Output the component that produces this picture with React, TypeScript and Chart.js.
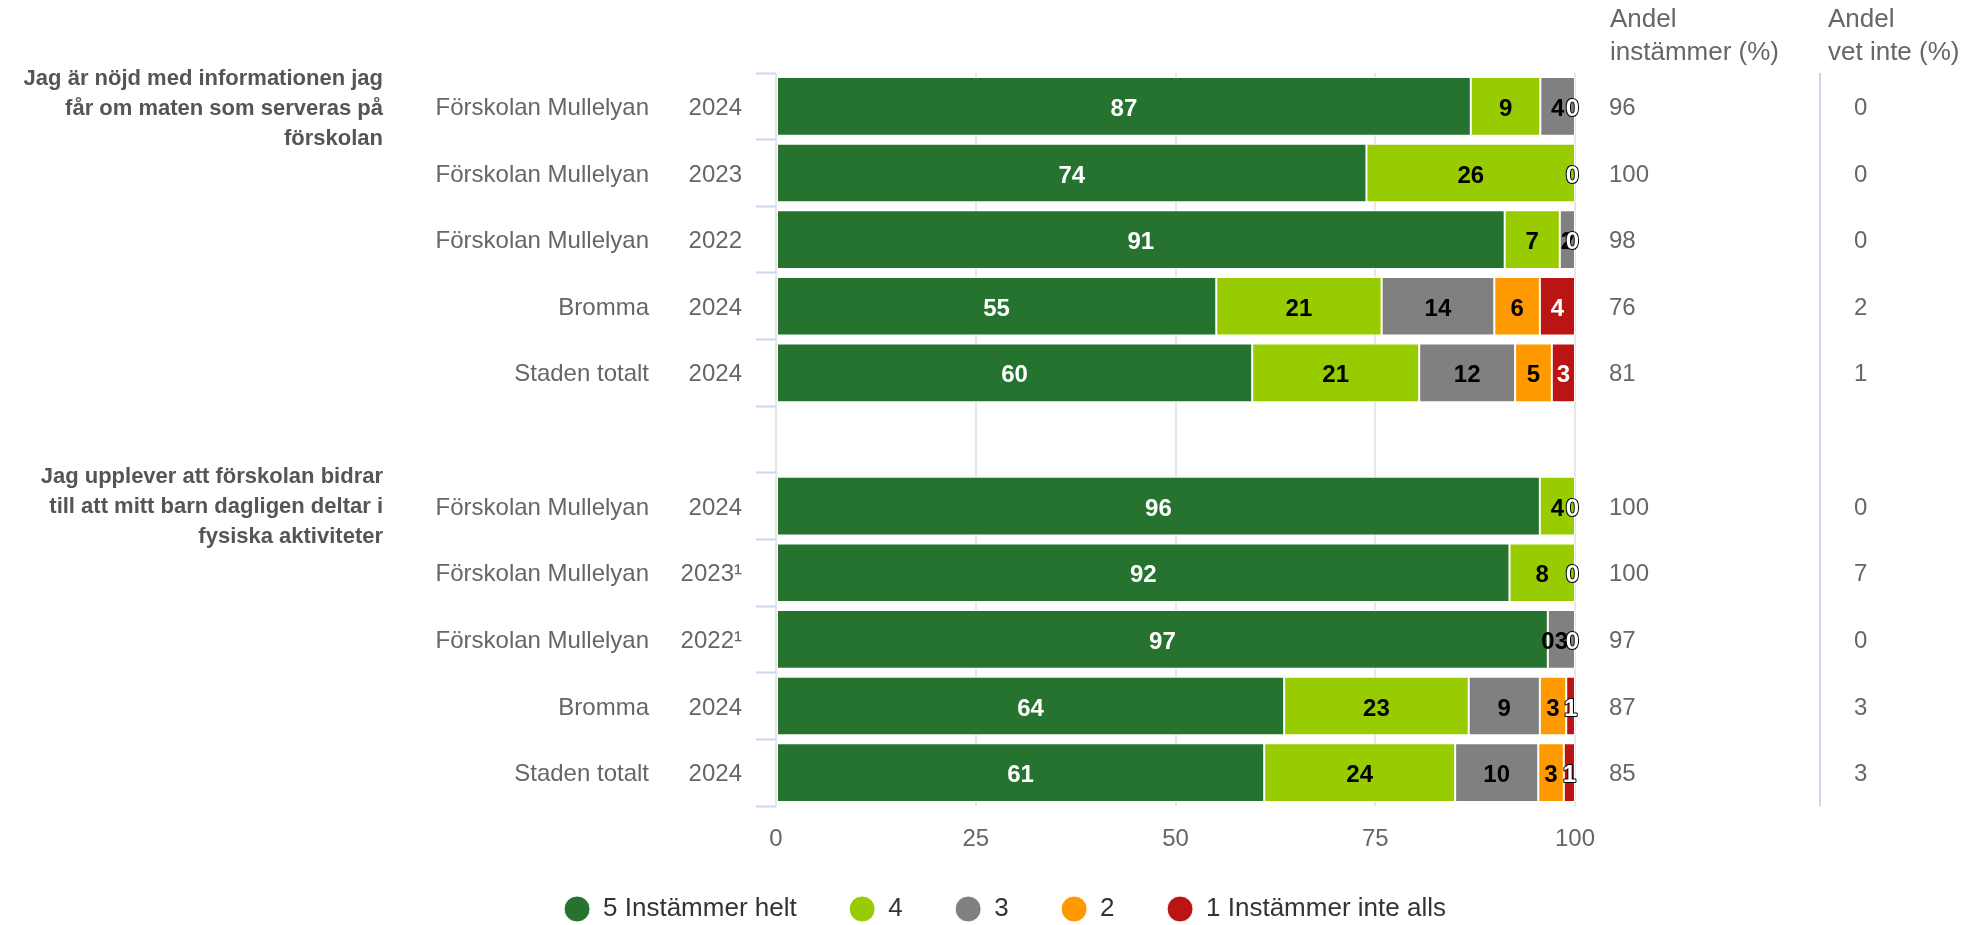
import React, { useEffect, useRef } from "react";
import { Chart, registerables } from "chart.js";

Chart.register(...registerables);

// ---------- data ----------
const sites = [
  "Förskolan Mullelyan", "Förskolan Mullelyan", "Förskolan Mullelyan", "Bromma", "Staden totalt",
  "",
  "Förskolan Mullelyan", "Förskolan Mullelyan", "Förskolan Mullelyan", "Bromma", "Staden totalt",
];
const years = ["2024", "2023", "2022", "2024", "2024", "", "2024", "2023¹", "2022¹", "2024", "2024"];

const question1 = ["Jag är nöjd med informationen jag", "får om maten som serveras på", "förskolan"];
const question2 = ["Jag upplever att förskolan bidrar", "till att mitt barn dagligen deltar i", "fysiska aktiviteter"];
const questionRows = [0, 6];

const seriesNames = ["5 Instämmer helt", "4", "3", "2", "1 Instämmer inte alls"];
const seriesColors = ["#26732f", "#99cc00", "#808080", "#ff9900", "#bb1414"];

const s5 = [86.96, 73.9, 91.2, 55.1, 59.6, null, 95.6, 91.8, 96.6, 63.6, 61.1];
const s4 = [8.7, 26.1, 6.9, 20.7, 20.9, null, 4.4, 8.2, 0, 23.1, 23.9];
const s3 = [4.34, 0, 1.9, 14.1, 12.0, null, 0, 0, 3.4, 8.9, 10.4];
const s2 = [0, 0, 0, 5.7, 4.6, null, 0, 0, 0, 3.3, 3.2];
const s1 = [0, 0, 0, 4.4, 2.9, null, 0, 0, 0, 1.1, 1.4];

const agreeShare = [96, 100, 98, 76, 81, null, 100, 100, 97, 87, 85];
const dontKnowShare = [0, 0, 0, 2, 1, null, 0, 7, 0, 3, 3];

const xTicks = [0, 25, 50, 75, 100];
const header1 = ["Andel", "instämmer (%)"];
const header2 = ["Andel", "vet inte (%)"];

// ---------- styling ----------
const FONT = '"Liberation Sans", Arial, Helvetica, sans-serif';
const LABEL_COLOR = "#666666";
const QUESTION_OFFSETS = [3, 1];

const allSeries = [s5, s4, s3, s2, s1];

const overlayPlugin = {
  id: "overlay",
  afterDatasetsDraw(chart: any) {
    const ctx = chart.ctx;
    const area = chart.chartArea;
    const yScale = chart.scales.y;
    const xScale = chart.scales.x;
    ctx.save();

    // data labels
    ctx.font = `bold 24px ${FONT}`;
    ctx.textAlign = "center";
    ctx.textBaseline = "middle";
    ctx.lineJoin = "round";
    for (let j = 0; j < sites.length; j++) {
      const metas = allSeries.map((_, i) => chart.getDatasetMeta(i));
      allSeries.forEach((s, i) => {
        const v = s[j];
        if (v == null) return;
        const el = metas[i].data[j];
        if (!el) return;
        const { x, base, y } = el.getProps(["x", "base", "y"], true);
        if (v === 0) {
          // hide a zero label when a later zero sits at the same spot
          for (let k = i + 1; k < allSeries.length; k++) {
            const el2 = metas[k].data[j];
            if (allSeries[k][j] === 0 && el2 && Math.abs(el2.base - base) < 0.5) return;
          }
        }
        const text = String(Math.round(v));
        const w = ctx.measureText(text).width;
        let cx = (x + base) / 2;
        if (cx > area.right - w / 2 + 4) cx = area.right - w / 2 + 4;
        const white = i === 0 || i === 4;
        const ty = y + 3;
        if (white) {
          if (w > Math.abs(x - base) - 2) {
            ctx.lineWidth = 2;
            ctx.strokeStyle = "#000000";
            ctx.strokeText(text, cx, ty);
          }
          ctx.fillStyle = "#ffffff";
        } else {
          ctx.fillStyle = "#000000";
        }
        ctx.fillText(text, cx, ty);
      });
    }

    // x axis tick labels (from the scale's own ticks)
    ctx.font = `24px ${FONT}`;
    ctx.fillStyle = LABEL_COLOR;
    ctx.textAlign = "center";
    xScale.ticks.forEach((t: any) => {
      ctx.fillText(String(t.value), xScale.getPixelForValue(t.value), area.bottom + 33);
    });

    // category labels (site + year)
    ctx.textAlign = "right";
    for (let j = 0; j < sites.length; j++) {
      const y = yScale.getPixelForValue(j) + 2;
      if (sites[j]) ctx.fillText(sites[j], 649, y);
      if (years[j]) ctx.fillText(years[j], 742, y);
    }

    // question labels
    ctx.font = `bold 22px ${FONT}`;
    ctx.fillStyle = "#555555";
    [question1, question2].forEach((lines, q) => {
      const cy = yScale.getPixelForValue(questionRows[q]) + QUESTION_OFFSETS[q];
      lines.forEach((line, k) => {
        ctx.fillText(line, 383, cy + (k - (lines.length - 1) / 2) * 30);
      });
    });

    // right columns
    ctx.textAlign = "left";
    ctx.font = `26px ${FONT}`;
    ctx.fillStyle = LABEL_COLOR;
    header1.forEach((t, k) => ctx.fillText(t, 1610, 20 + k * 33));
    header2.forEach((t, k) => ctx.fillText(t, 1828, 20 + k * 33));
    ctx.font = `24px ${FONT}`;
    for (let j = 0; j < sites.length; j++) {
      const y = yScale.getPixelForValue(j) + 2;
      if (agreeShare[j] != null) ctx.fillText(String(agreeShare[j]), 1609, y);
      if (dontKnowShare[j] != null) ctx.fillText(String(dontKnowShare[j]), 1854, y);
    }
    ctx.strokeStyle = "#ccd6eb";
    ctx.lineWidth = 2;
    ctx.beginPath();
    ctx.moveTo(1820, area.top);
    ctx.lineTo(1820, area.bottom);
    ctx.stroke();

    ctx.restore();
  },
};

export default function App() {
  const ref = useRef<HTMLCanvasElement | null>(null);

  useEffect(() => {
    if (!ref.current) return;
    const chart = new Chart(ref.current, {
      type: "bar",
      data: {
        labels: sites.map((s, i) => `${s} ${years[i]}`),
        datasets: allSeries.map((s, i) => ({
          label: seriesNames[i],
          data: s as any,
          backgroundColor: seriesColors[i],
          borderColor: "#ffffff",
          borderWidth: 1,
          borderSkipped: false,
          barPercentage: 0.88,
          categoryPercentage: 1,
        })),
      },
      options: {
        indexAxis: "y",
        animation: false,
        responsive: false,
        maintainAspectRatio: false,
        layout: { padding: { left: 40, right: 0, top: 73, bottom: -7 } },
        scales: {
          x: {
            stacked: true,
            min: 0,
            max: 100,
            afterBuildTicks: (scale: any) => {
              scale.ticks = xTicks.map((v) => ({ value: v }));
            },
            ticks: { display: false },
            grid: { color: "#e6e6e6", lineWidth: 2, drawTicks: false },
            border: { display: false },
            afterFit: (scale: any) => {
              scale.height = 37.5;
            },
          },
          y: {
            stacked: true,
            ticks: { display: false },
            grid: {
              drawOnChartArea: false,
              drawTicks: true,
              tickLength: 20,
              tickColor: "#ccd6eb",
              tickWidth: 2,
              offset: true,
            },
            border: { display: false },
            afterFit: (scale: any) => {
              scale.width = 736;
            },
          },
          yRight: {
            type: "category",
            position: "right",
            display: true,
            ticks: { display: false },
            grid: { display: false },
            border: { display: false },
            afterFit: (scale: any) => {
              scale.width = 395;
            },
          },
        },
        plugins: {
          legend: {
            position: "bottom",
            labels: {
              usePointStyle: true,
              pointStyle: "circle",
              pointStyleWidth: 26,
              boxHeight: 18.4,
              padding: 52.5,
              color: "#333333",
              font: { size: 26, family: FONT },
            },
          },
          tooltip: { enabled: false },
        },
      } as any,
      plugins: [overlayPlugin],
    });
    return () => chart.destroy();
  }, []);

  return (
    <div style={{ position: "absolute", left: 0, top: 0, width: 1970, height: 925, background: "#ffffff" }}>
      <canvas ref={ref} width={1970} height={925} style={{ display: "block" }} />
    </div>
  );
}
